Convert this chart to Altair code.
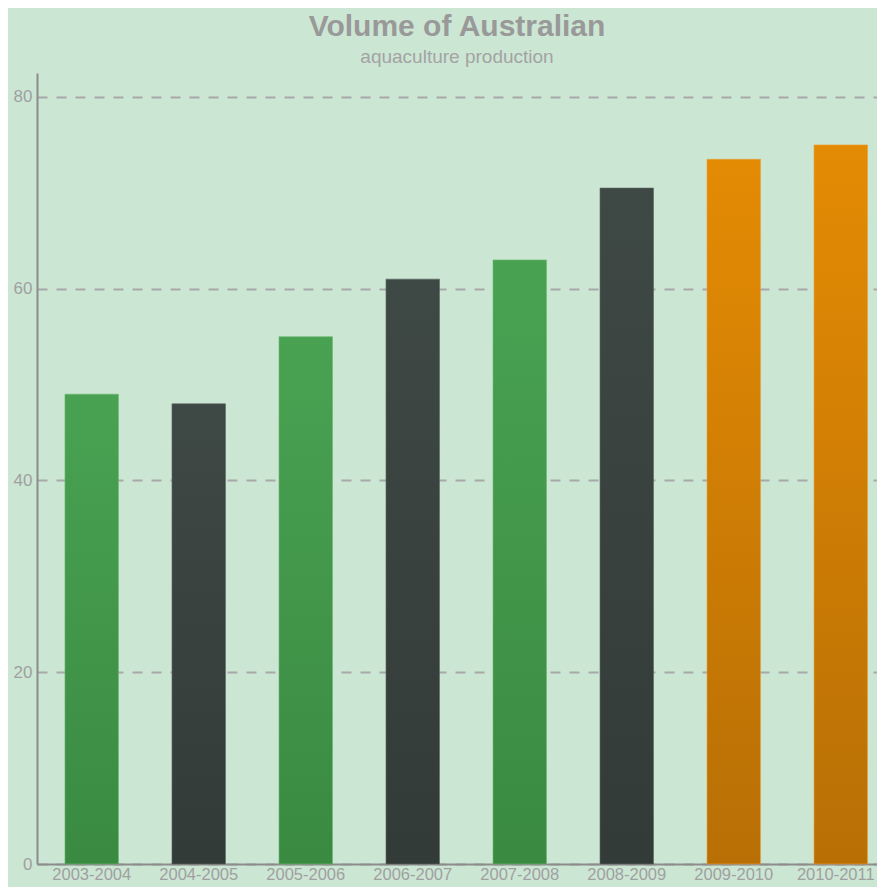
import altair as alt
import pandas as pd

years = ["2003-2004", "2004-2005", "2005-2006", "2006-2007",
         "2007-2008", "2008-2009", "2009-2010", "2010-2011"]
values = [49, 48, 55, 61, 63, 70.5, 73.5, 75]
groups = ["green", "dark", "green", "dark", "green", "dark", "orange", "orange"]

gradients = {
    "green": ("#49a252", "#3a8a42"),
    "dark": ("#3e4844", "#333b38"),
    "orange": ("#e48b04", "#b86f05"),
}
edges = {"green": "#6db873", "dark": "#5e6864", "orange": "#eaa23a"}

df = pd.DataFrame({"year": years, "value": values, "group": groups})

FONT = "Liberation Sans"

base = alt.Chart(df).encode(
    x=alt.X(
        "year:N",
        sort=years,
        scale=alt.Scale(paddingInner=0.5, paddingOuter=0.175, align=0.747),
        axis=alt.Axis(
            title=None, labelAngle=0, ticks=False, grid=False,
            domainColor="#8c8c8c", domainWidth=2,
            labelFont=FONT, labelFontSize=16.5, labelColor="#a0a0a0",
            labelPadding=2,
            labelOffset={
                "condition": {"test": "datum.value === '2010-2011'", "value": -5},
                "value": 0,
            },
        ),
    ),
    y=alt.Y(
        "value:Q",
        scale=alt.Scale(domain=[0, 82.5], nice=False),
        axis=alt.Axis(
            title=None, values=[0, 20, 40, 60, 80], ticks=False,
            grid=True, gridColor="#a8a8a8", gridWidth=2, gridDash=[10, 9],
            domainColor="#8c8c8c", domainWidth=2,
            labelFont=FONT, labelFontSize=17, labelColor="#a0a0a0",
            labelPadding=5,
        ),
    ),
)

layers = []
for g, (top, bot) in gradients.items():
    layers.append(
        base.transform_filter(alt.datum.group == g).mark_bar(
            color={
                "gradient": "linear",
                "x1": 0, "y1": 0, "x2": 0, "y2": 1,
                "stops": [
                    {"offset": 0, "color": top},
                    {"offset": 1, "color": bot},
                ],
            },
            stroke=edges[g], strokeWidth=1, strokeOpacity=0.6,
        )
    )

chart = alt.layer(*layers).properties(
    width=840,
    height=791,
    background="#cce6d4",
    autosize=alt.AutoSizeParams(type="none"),
    padding={"left": 29, "top": 65, "right": 0, "bottom": 23},
    title=alt.TitleParams(
        text="Volume of Australian",
        subtitle="aquaculture production",
        anchor="middle",
        font=FONT, fontSize=30, fontWeight="bold", color="#999999",
        subtitleFont=FONT, subtitleFontSize=19, subtitleColor="#a3a3a3",
        subtitlePadding=6, offset=6,
    ),
).configure_view(strokeWidth=0)

chart.save("out.html", embed_options={"renderer": "svg", "actions": False})
